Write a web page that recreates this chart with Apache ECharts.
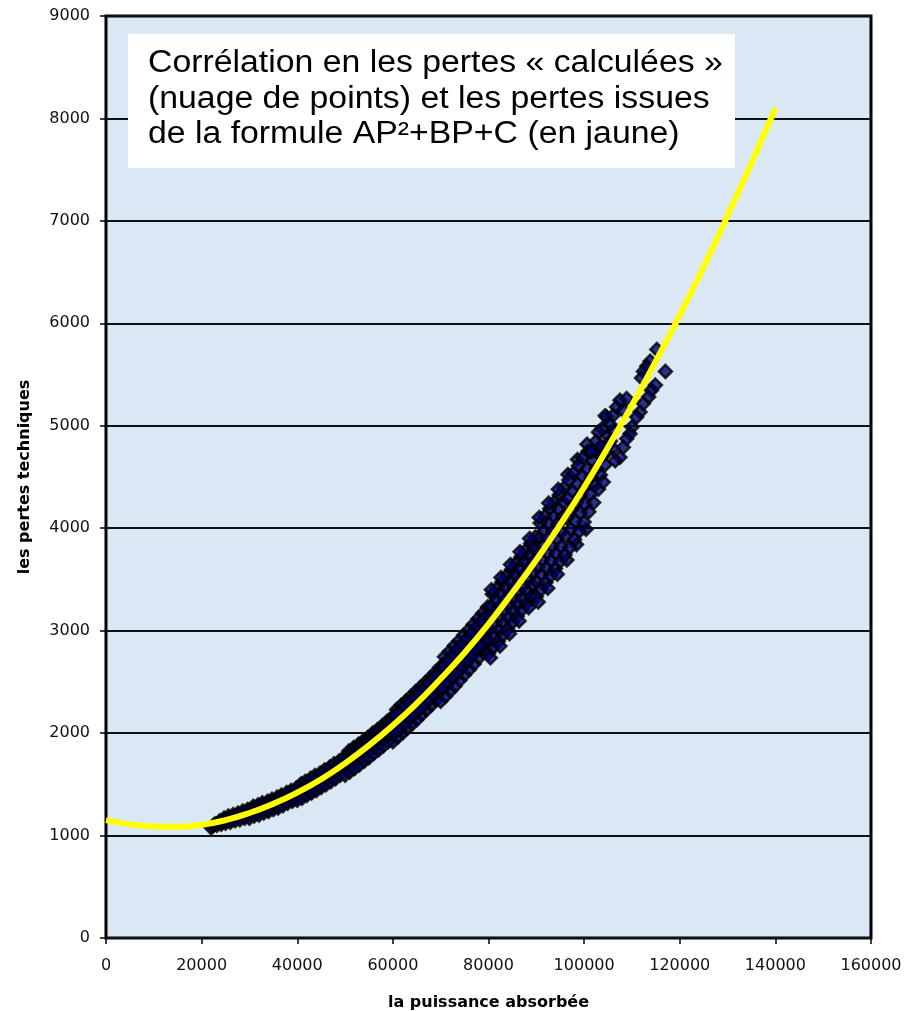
<!DOCTYPE html>
<html>
<head>
<meta charset="utf-8">
<script src="https://cdn.jsdelivr.net/npm/echarts@6/dist/echarts.min.js"></script>
<style>
  html, body { margin: 0; padding: 0; background: #fff; }
  #chart { width: 919px; height: 1011px; }
</style>
</head>
<body>
<div id="chart"></div>
<script>
// axis ticks
const xTicks = [0, 20000, 40000, 60000, 80000, 100000, 120000, 140000, 160000];
const yTicks = [0, 1000, 2000, 3000, 4000, 5000, 6000, 7000, 8000, 9000];

// yellow curve AP²+BP+C, every 5000
const curvePower = [0, 5000, 10000, 15000, 20000, 25000, 30000, 35000, 40000, 45000,
  50000, 55000, 60000, 65000, 70000, 75000, 80000, 85000, 90000, 95000,
  100000, 105000, 110000, 115000, 120000, 125000, 130000, 135000, 140000];
const curveLoss = [1150, 1110, 1088, 1085, 1105, 1150, 1220, 1310, 1420, 1550,
  1705, 1880, 2075, 2290, 2530, 2785, 3065, 3370, 3690, 4035,
  4400, 4790, 5200, 5630, 6080, 6550, 7050, 7565, 8100];

// "calculated" losses (point cloud), [power, loss]
const cloudPoints = [
  [22000,1075],[22400,1095],[22800,1115],
  [23200,1100],[23500,1125],[23800,1145],
  [24100,1110],[24400,1140],[24700,1170],
  [25000,1120],[25300,1155],[25600,1190],
  [26000,1130],[26300,1170],[26600,1205],
  [27000,1145],[27300,1185],[27600,1220],
  [28000,1155],[28300,1200],[28600,1240],
  [29000,1170],[29300,1215],[29600,1255],
  [30000,1170],[30200,1215],[30500,1260],[30800,1285],
  [31000,1190],[31300,1235],[31500,1275],[31800,1300],
  [32000,1200],[32200,1245],[32500,1290],[32700,1320],
  [33000,1220],[33300,1265],[33500,1310],[33800,1335],
  [34000,1235],[34200,1280],[34500,1325],[34700,1355],
  [35000,1255],[35300,1300],[35500,1345],[35800,1375],
  [36000,1270],[36200,1320],[36500,1365],[36700,1395],
  [37000,1290],[37300,1340],[37500,1385],[37800,1420],
  [38000,1315],[38200,1360],[38500,1410],[38700,1440],
  [39000,1335],[39300,1385],[39500,1430],[39800,1465],
  [40000,1345],[40300,1400],[40500,1450],[40800,1505],
  [41000,1365],[41200,1420],[41500,1475],[41700,1530],
  [42000,1390],[42300,1445],[42500,1500],[42800,1560],
  [43000,1415],[43200,1470],[43500,1530],[43700,1585],
  [44000,1440],[44300,1500],[44500,1555],[44800,1610],
  [45000,1470],[45200,1525],[45500,1585],[45700,1640],
  [46000,1495],[46300,1555],[46500,1615],[46800,1670],
  [47000,1525],[47200,1585],[47500,1640],[47700,1700],
  [48000,1555],[48300,1615],[48500,1670],[48800,1730],
  [49000,1590],[49200,1645],[49500,1705],[49700,1760],
  [50000,1590],[50200,1660],[50400,1730],[50600,1790],[50800,1825],
  [51000,1620],[51200,1690],[51400,1760],[51600,1820],[51800,1860],
  [52000,1655],[52200,1725],[52400,1795],[52600,1855],[52800,1890],
  [53000,1690],[53200,1760],[53400,1830],[53600,1890],[53800,1925],
  [54000,1725],[54200,1795],[54400,1865],[54600,1925],[54800,1960],
  [55000,1760],[55200,1830],[55400,1900],[55600,1960],[55800,2000],
  [56000,1800],[56200,1870],[56400,1940],[56600,2000],[56800,2035],
  [57000,1835],[57200,1905],[57400,1975],[57600,2040],[57800,2075],
  [58000,1875],[58200,1945],[58400,2015],[58600,2080],[58800,2115],
  [59000,1915],[59200,1985],[59400,2055],[59600,2120],[59800,2155],
  [60000,1915],[60200,2005],[60400,2085],[60600,2160],[60800,2230],
  [61000,1960],[61200,2045],[61400,2130],[61600,2205],[61800,2275],
  [62000,2000],[62200,2090],[62400,2170],[62600,2245],[62800,2315],
  [63000,2045],[63200,2130],[63400,2215],[63600,2290],[63800,2360],
  [64000,2090],[64200,2175],[64400,2260],[64600,2335],[64800,2405],
  [65000,2130],[65200,2220],[65400,2305],[65600,2380],[65800,2450],
  [66000,2180],[66200,2265],[66400,2350],[66600,2425],[66800,2495],
  [67000,2225],[67200,2310],[67400,2395],[67600,2470],[67800,2540],
  [68000,2270],[68200,2360],[68400,2445],[68600,2520],[68800,2590],
  [69000,2320],[69200,2405],[69400,2495],[69600,2570],[69800,2640],
  [60500,2015],[60500,2175],[61500,2057],[61500,2217],[62500,2100],[62500,2260],
  [63500,2144],[63500,2304],[64500,2188],[64500,2348],[65500,2234],[65500,2394],
  [66500,2280],[66500,2440],[67500,2327],[67500,2487],[68500,2375],[68500,2535],
  [69500,2424],[69500,2584],
  [70000,2310],[70200,2420],[70400,2530],[70600,2640],[70800,2745],
  [71000,2360],[71200,2470],[71400,2580],[71600,2690],[71800,2795],
  [72000,2410],[72200,2520],[72400,2635],[72600,2740],[72800,2850],
  [73000,2460],[73200,2575],[73400,2685],[73600,2795],[73800,2900],
  [74000,2515],[74200,2625],[74400,2740],[74600,2845],[74800,2955],
  [75000,2570],[75200,2680],[75400,2790],[75600,2900],[75800,3005],
  [76000,2620],[76200,2735],[76400,2845],[76600,2955],[76800,3060],
  [77000,2675],[77200,2790],[77400,2900],[77600,3010],[77800,3115],
  [78000,2735],[78200,2845],[78400,2955],[78600,3065],[78800,3170],
  [79000,2790],[79200,2900],[79400,3010],[79600,3120],[79800,3230],
  [70500,2443],[70500,2663],[71500,2494],[71500,2714],[72500,2545],[72500,2765],
  [73500,2597],[73500,2817],[74500,2650],[74500,2870],[75500,2704],[75500,2924],
  [76500,2759],[76500,2979],[77500,2815],[77500,3035],[78500,2871],[78500,3091],
  [79500,2929],[79500,3149],
  [80000,2780],[80150,2895],[80300,3010],[80500,3125],[80650,3240],[80800,3355],
  [81000,2835],[81150,2950],[81300,3070],[81500,3185],[81650,3300],[81800,3415],
  [82000,2895],[82150,3010],[82300,3130],[82500,3245],[82650,3360],[82800,3475],
  [83000,2955],[83150,3070],[83300,3190],[83500,3305],[83650,3420],[83800,3535],
  [84000,3015],[84150,3130],[84300,3250],[84500,3365],[84650,3480],[84800,3595],
  [85000,3080],[85150,3195],[85300,3310],[85500,3425],[85650,3540],[85800,3660],
  [86000,3140],[86150,3260],[86300,3375],[86500,3490],[86650,3605],[86800,3720],
  [87000,3205],[87150,3320],[87300,3440],[87500,3555],[87650,3670],[87800,3785],
  [88000,3270],[88150,3385],[88300,3505],[88500,3620],[88650,3735],[88800,3850],
  [89000,3335],[89150,3450],[89300,3570],[89500,3685],[89650,3800],[89800,3915],
  [90000,3330],[90150,3475],[90300,3620],[90500,3765],[90650,3910],[90800,4050],
  [91000,3400],[91150,3545],[91300,3690],[91500,3830],[91650,3975],[91800,4120],
  [92000,3470],[92150,3610],[92300,3755],[92500,3900],[92650,4045],[92800,4190],
  [93000,3535],[93150,3680],[93300,3825],[93500,3970],[93650,4115],[93800,4255],
  [94000,3605],[94150,3750],[94300,3895],[94500,4040],[94650,4185],[94800,4325],
  [95000,3675],[95150,3820],[95300,3965],[95500,4110],[95650,4255],[95800,4395],
  [80400,2735],[80600,3400],[82400,2850],[82600,3520],[84400,2970],[84600,3645],
  [86400,3095],[86600,3770],[88400,3225],[88600,3900],[90400,3280],[90600,4105],
  [92400,3415],[92600,4245],[94400,3550],[94600,4380],[96400,3690],[96600,4525],
  [98400,3840],[98600,4670],[100400,3990],[100600,4820],
  [96000,3740],[96200,3920],[96400,4100],[96600,4290],[96800,4470],
  [97000,3810],[97200,3990],[97400,4180],[97600,4360],[97800,4540],
  [98000,3890],[98200,4070],[98400,4250],[98600,4430],[98800,4610],
  [99000,3970],[99200,4150],[99400,4330],[99600,4510],[99800,4690],
  [100000,4060],[100200,4230],[100400,4410],[100600,4580],[100800,4750],
  [101000,4160],[101300,4330],[101500,4500],[101800,4660],
  [102000,4250],[102300,4420],[102500,4580],[102800,4740],
  [103000,4380],[103400,4520],[103800,4700],
  [104000,4450],[104400,4620],[104800,4800],
  [101500,4750],[102500,4850],[103500,4800],[105000,4900],[105500,4850],[106000,4950],[106000,4780],
  [104700,5085],[103700,4971],[103000,4938],[104400,5098],[105400,5016],[106100,5102],
  [106800,5184],[107500,5249],[108900,5266],[108200,5151],
  [111700,5134],[111000,5085],[110000,4987],[109600,4922],[108900,4873],
  [108200,4790],[107500,4692],[106500,4659],[104700,4741],
  [115200,5745],[113800,5630],[113100,5580],[112400,5531],[112000,5466],[117000,5531],
  [114900,5397],[114100,5348],[113500,5282],[112400,5217]
];

const chart = echarts.init(document.getElementById("chart"));

const axisFont = "DejaVu Sans";

const option = {
  backgroundColor: "#fff",
  animation: false,
  grid: {
    left: 106,
    right: 48,
    top: 16,
    bottom: 73,
    outerBoundsMode: "none",
    show: true,
    backgroundColor: "#dae7f5",
    borderColor: "#000",
    borderWidth: 3,
  },
  xAxis: {
    type: "value",
    min: xTicks[0],
    max: xTicks[xTicks.length - 1],
    interval: xTicks[1] - xTicks[0],
    name: "la puissance absorbée",
    nameLocation: "middle",
    nameGap: 57,
    nameTextStyle: { fontFamily: axisFont, fontWeight: "bold", fontSize: 16, color: "#000" },
    axisLine: { show: false },
    axisTick: { show: true, length: 6, lineStyle: { color: "#000", width: 1.5 } },
    axisLabel: { margin: 20, fontFamily: axisFont, fontSize: 16, color: "#111", formatter: (v) => String(v) },
    splitLine: { show: false },
  },
  yAxis: {
    type: "value",
    min: yTicks[0],
    max: yTicks[yTicks.length - 1],
    interval: yTicks[1] - yTicks[0],
    name: "les pertes techniques",
    nameLocation: "middle",
    nameGap: 73,
    nameRotate: 90,
    nameTextStyle: { fontFamily: axisFont, fontWeight: "bold", fontSize: 16, color: "#000" },
    axisLine: { show: false },
    axisTick: { show: true, length: 6, lineStyle: { color: "#000", width: 1.5 } },
    axisLabel: { margin: 16, fontFamily: axisFont, fontSize: 16, color: "#111", formatter: (v) => String(v) },
    splitLine: { show: true, lineStyle: { color: "#111", width: 2 } },
  },
  series: [
    {
      name: "pertes calculées",
      type: "scatter",
      data: cloudPoints,
      symbol: "diamond",
      symbolSize: 13,
      itemStyle: { color: "#000070", borderColor: "#000", borderWidth: 2.5 },
      silent: true,
      z: 2,
    },
    {
      name: "AP²+BP+C",
      type: "line",
      data: curvePower.map((p, i) => [p, curveLoss[i]]),
      smooth: true,
      symbol: "none",
      lineStyle: { color: "#ffff00", width: 6 },
      silent: true,
      z: 3,
    },
  ],
  graphic: [
    {
      type: "rect",
      x: 128,
      y: 34,
      shape: { width: 607, height: 134 },
      style: { fill: "#fff" },
      z: 10,
    },
    {
      type: "text",
      x: 148,
      y: 46,
      scaleX: 1.09,
      z: 11,
      style: {
        text: "Corrélation en les pertes « calculées »\n(nuage de points) et les pertes issues\nde la formule AP²+BP+C (en jaune)",
        font: '31px "Liberation Sans", Arial, sans-serif',
        lineHeight: 35.5,
        fill: "#000",
        align: "left",
        verticalAlign: "top",
      },
    },
  ],
};

chart.setOption(option);
</script>
</body>
</html>
